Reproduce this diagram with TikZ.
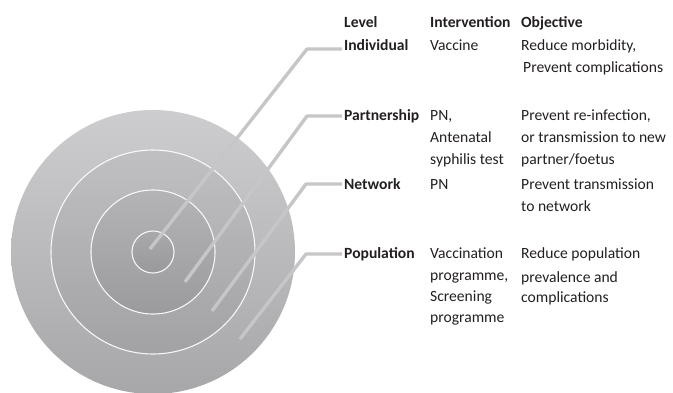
\documentclass[tikz,border=0pt]{standalone}
\usepackage{fontspec}
\setmainfont{Carlito}
\definecolor{discTop}{HTML}{CDCDCF}
\definecolor{discBot}{HTML}{A7A7A9}
\definecolor{ringTop}{HTML}{C0C0C2}
\definecolor{ringBot}{HTML}{A2A2A4}
\definecolor{midTop}{HTML}{B4B4B6}
\definecolor{midBot}{HTML}{9B9B9D}
\definecolor{inTop}{HTML}{A9A9AB}
\definecolor{inBot}{HTML}{99999B}
\definecolor{leadgray}{HTML}{C6C6C8}
\definecolor{txt}{HTML}{231F20}
\tikzset{
  leader/.style={draw=leadgray, line width=3.4pt, line join=round},
  ringline/.style={draw=white, line width=1.1pt, opacity=0.9},
  cell/.style={anchor=base west, inner sep=0pt, font=\fontsize{15.6}{18}\selectfont, text=txt},
  bcell/.style={cell, font=\fontsize{15.6}{18}\selectfont\bfseries}
}
\begin{document}
\begin{tikzpicture}[x=1pt,y=-1pt]
\useasboundingbox (0,0) rectangle (673,392);
\clip (0,0) rectangle (673,392);
\coordinate (c) at (153,252);
% target
\shade[top color=discTop, bottom color=discBot] (c) circle (142);
\shade[top color=ringTop, bottom color=ringBot] (c) circle (102);
\shade[top color=midTop, bottom color=midBot] (c) circle (62);
\shade[top color=inTop, bottom color=inBot] (c) circle (21);
\draw[ringline] (c) circle (102);
\draw[ringline] (c) circle (62);
\draw[ringline] (c) circle (21);
% header
\node[bcell] (hlev) at (344,27) {Level};
\node[bcell] (hint) at (430,27) {Intervention};
\node[bcell] (hobj) at (521,27) {Objective};
% Individual
\node[bcell] (lind) at (344,50) {Individual};
\node[cell] (iind) at (430,50) {Vaccine};
\node[cell] (oind1) at (521,50) {Reduce morbidity,};
\node[cell] (oind2) at (523,72) {Prevent complications};
% Partnership
\node[bcell] (lpar) at (344,120) {Partnership};
\node[cell] (ipar1) at (430,120) {PN,};
\node[cell] (ipar2) at (430,142) {Antenatal};
\node[cell] (ipar3) at (430,164) {syphilis test};
\node[cell] (opar1) at (521,120) {Prevent re-infection,};
\node[cell] (opar2) at (521,142) {or transmission to new};
\node[cell] (opar3) at (521,164) {partner/foetus};
% Network
\node[bcell] (lnet) at (344,189) {Network};
\node[cell] (inet) at (430,189) {PN};
\node[cell] (onet1) at (521,189) {Prevent transmission};
\node[cell] (onet2) at (521,211) {to network};
% Population
\node[bcell] (lpop) at (344,258) {Population};
\node[cell] (ipop1) at (430,258) {Vaccination};
\node[cell] (ipop2) at (430,280) {programme,};
\node[cell] (ipop3) at (430,301) {Screening};
\node[cell] (ipop4) at (430,322) {programme};
\node[cell] (opop1) at (521,258) {Reduce population};
\node[cell] (opop2) at (521,282) {prevalence and};
\node[cell] (opop3) at (521,302) {complications};
% leader lines
\coordinate (a1) at (150,249); \coordinate (k1) at (307,49);  \coordinate (b1) at (342,49);
\coordinate (a2) at (185,282); \coordinate (k2) at (307,116); \coordinate (b2) at (342,116);
\coordinate (a3) at (212,311); \coordinate (k3) at (306,184); \coordinate (b3) at (342,184);
\coordinate (a4) at (240,339); \coordinate (k4) at (306,254); \coordinate (b4) at (342,254);
\draw[leader] (a1) -- (k1) -- (b1);
\draw[leader] (a2) -- (k2) -- (b2);
\draw[leader] (a3) -- (k3) -- (b3);
\draw[leader] (a4) -- (k4) -- (b4);
\end{tikzpicture}
\end{document}
